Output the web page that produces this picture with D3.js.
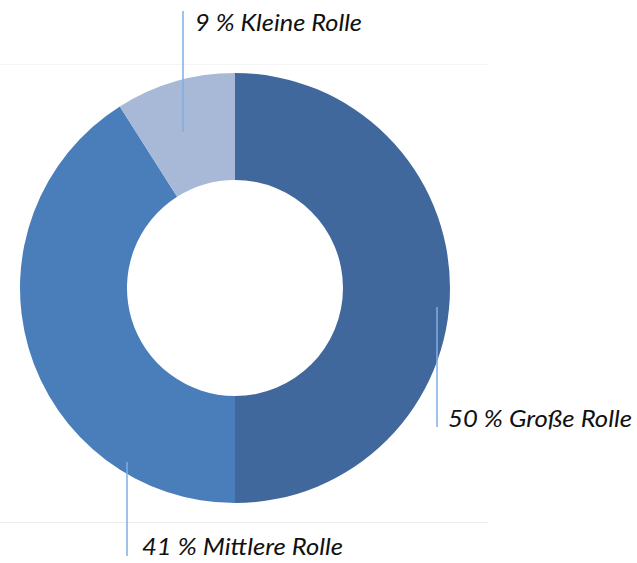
<!DOCTYPE html>
<html><head><meta charset="utf-8">
<script src="https://cdn.jsdelivr.net/npm/d3@7"></script>
<style>html,body{margin:0;padding:0;background:#fff;}svg{display:block;}</style>
</head><body>
<script>
const categories = ["Große Rolle", "Mittlere Rolle", "Kleine Rolle"];
const values = [50, 41, 9];
const colors = ["#41689c", "#4a7ebb", "#a7b9d7"];

const W = 637, H = 563;
const cx = 235, cy = 288, rOuter = 215, rInner = 108;
// label layout: line x, line top, line bottom, text x, text baseline, text width
const labelLayout = [
  {lx: 437, y1: 307, y2: 427, tx: 448, ty: 427, tw: 184},
  {lx: 127, y1: 462, y2: 556, tx: 142, ty: 555, tw: 201},
  {lx: 183, y1: 11, y2: 132, tx: 195, ty: 31, tw: 167}
];

const svg = d3.select("body").append("svg").attr("width", W).attr("height", H);

svg.append("line").attr("x1", 0).attr("x2", 488).attr("y1", 64.5).attr("y2", 64.5)
  .attr("stroke", "#f5f5f5").attr("stroke-width", 1);
svg.append("line").attr("x1", 0).attr("x2", 488).attr("y1", 522.5).attr("y2", 522.5)
  .attr("stroke", "#ececec").attr("stroke-width", 1);

const data = categories.map((c, i) => ({cat: c, value: values[i], color: colors[i]}));
const pie = d3.pie().sort(null).value(d => d.value);
const arc = d3.arc().innerRadius(rInner).outerRadius(rOuter);

const g = svg.append("g").attr("transform", `translate(${cx},${cy})`);
g.selectAll("path").data(pie(data)).join("path")
  .attr("d", arc).attr("fill", d => d.data.color);

const lab = svg.append("g");
data.forEach((d, i) => {
  const L = labelLayout[i];
  lab.append("line").attr("x1", L.lx).attr("x2", L.lx).attr("y1", L.y1).attr("y2", L.y2)
    .attr("stroke", "#7eaee3").attr("stroke-width", 1.5);
  lab.append("text").attr("x", L.tx).attr("y", L.ty)
    .attr("font-family", "Lato, 'Open Sans', sans-serif").attr("font-style", "italic")
    .attr("font-size", 23).attr("fill", "#111")
    .attr("textLength", L.tw).attr("lengthAdjust", "spacingAndGlyphs")
    .text(`${d.value} % ${d.cat}`);
});
</script>
</body></html>
